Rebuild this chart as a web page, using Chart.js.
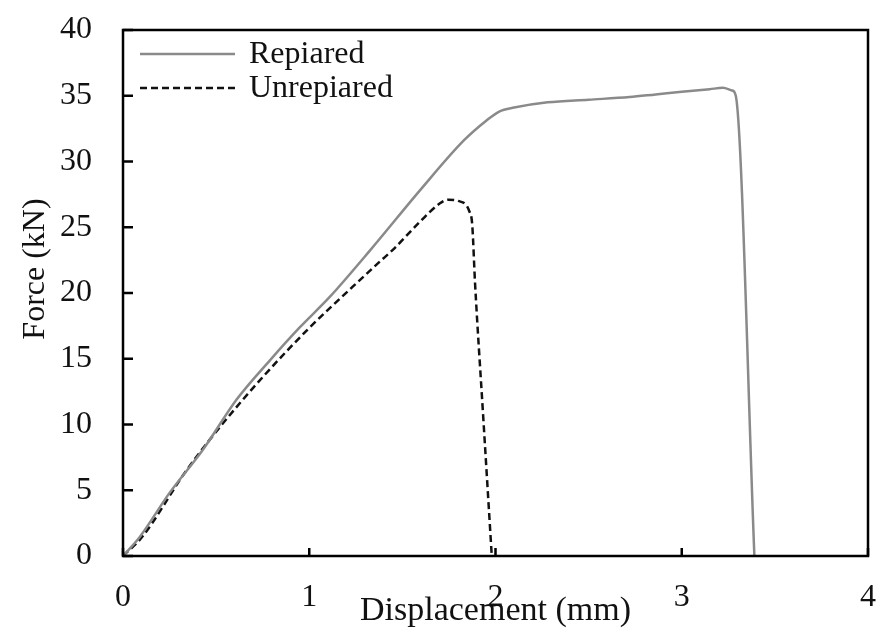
<!DOCTYPE html>
<html>
<head>
<meta charset="utf-8">
<script src="https://cdn.jsdelivr.net/npm/chart.js@4"></script>
<style>
	html, body { margin: 0; padding: 0; background: #ffffff; }
	#wrap { width: 883px; height: 632px; }
</style>
</head>
<body>
<div id="wrap"><canvas id="chart" width="883" height="632"></canvas></div>
<script>
/*--------------------------------------------------------------------------------------------------------------------*/
/* Data                                                                                          */
/*--------------------------------------------------------------------------------------------------------------------*/

const seriesNames = ['Repiared', 'Unrepiared'];

const repairedDisp = [0, 0.09, 0.25, 0.43, 0.61, 0.79, 0.95, 1.11, 1.33, 1.6, 1.83, 1.95, 2.02, 2.1, 2.28, 2.5, 2.72, 2.86, 3.0, 3.15, 3.22, 3.27, 3.29, 3.39];
const repairedForce = [0, 1.45, 4.8, 8.1, 11.9, 14.9, 17.4, 19.7, 23.3, 27.9, 31.6, 33.1, 33.8, 34.1, 34.5, 34.7, 34.9, 35.1, 35.3, 35.5, 35.6, 35.4, 35.0, 0];

const unrepairedDisp = [0, 0.1, 0.34, 0.52, 0.75, 0.99, 1.235, 1.38, 1.45, 1.6, 1.7, 1.747, 1.8, 1.86, 1.875, 1.89, 1.934, 1.98];
const unrepairedForce = [0, 1.4, 6.5, 9.8, 13.6, 17.2, 20.5, 22.4, 23.3, 25.5, 26.8, 27.1, 27.0, 26.2, 25.2, 20.8, 10.6, 0];

const xTicks = [0, 1, 2, 3, 4];
const yTicks = [0, 5, 10, 15, 20, 25, 30, 35, 40];

/*--------------------------------------------------------------------------------------------------------------------*/

const FONT = 'Liberation Serif, Times New Roman, serif';

function toPoints(xs, ys)
{
	return xs.map((x, i) => ({x: x, y: ys[i]}));
}

/*--------------------------------------------------------------------------------------------------------------------*/
/* frame, inward ticks and the legend box drawn over the plot                                                         */
/*--------------------------------------------------------------------------------------------------------------------*/

const framePlugin = {
	id: 'frame',
	afterDraw: function(chart)
	{
		const ctx = chart.ctx;
		const area = chart.chartArea;
		const sx = chart.scales.x;
		const sy = chart.scales.y;

		ctx.save();
		ctx.strokeStyle = '#000000';
		ctx.lineWidth = 2.5;
		ctx.setLineDash([]);
		ctx.strokeRect(area.left, area.top, area.right - area.left, area.bottom - area.top);

		ctx.beginPath();
		xTicks.forEach((v) => {
			const px = sx.getPixelForValue(v);
			ctx.moveTo(px, area.bottom);
			ctx.lineTo(px, area.bottom - 8);
		});
		yTicks.forEach((v) => {
			const py = sy.getPixelForValue(v);
			ctx.moveTo(area.left, py);
			ctx.lineTo(area.left + 10, py);
		});
		ctx.stroke();

		/* legend */
		const rows = [area.top + 24, area.top + 58];
		chart.data.datasets.forEach((ds, i) => {
			ctx.beginPath();
			ctx.strokeStyle = ds.borderColor;
			ctx.lineWidth = ds.borderWidth;
			ctx.setLineDash(ds.borderDash || []);
			ctx.moveTo(area.left + 17, rows[i]);
			ctx.lineTo(area.left + 112, rows[i]);
			ctx.stroke();

			ctx.setLineDash([]);
			ctx.fillStyle = '#111111';
			ctx.font = '32px ' + FONT;
			ctx.textBaseline = 'middle';
			ctx.textAlign = 'left';
			ctx.fillText(ds.label, area.left + 126, rows[i] + 1);
		});
		ctx.restore();
	},
};

/*--------------------------------------------------------------------------------------------------------------------*/

new Chart(document.getElementById('chart').getContext('2d'), {
	type: 'scatter',
	data: {
		datasets: [{
			label: seriesNames[0],
			data: toPoints(repairedDisp, repairedForce),
			showLine: true,
			borderColor: '#8a8a8a',
			borderWidth: 2.5,
			pointRadius: 0,
			cubicInterpolationMode: 'monotone',
		}, {
			label: seriesNames[1],
			data: toPoints(unrepairedDisp, unrepairedForce),
			showLine: true,
			borderColor: '#111111',
			borderWidth: 2.5,
			borderDash: [7, 4],
			pointRadius: 0,
			cubicInterpolationMode: 'monotone',
		}],
	},
	options: {
		responsive: false,
		animation: false,
		layout: {
			padding: {left: 0, right: 15, top: 30, bottom: 0},
		},
		plugins: {
			legend: {display: false},
			tooltip: {enabled: false},
		},
		scales: {
			x: {
				type: 'linear',
				min: 0,
				max: 4,
				afterFit: (scale) => {
					scale.height = 76;
					scale.paddingLeft = 0;
					scale.paddingRight = 0;
				},
				afterBuildTicks: (scale) => { scale.ticks = xTicks.map((v) => ({value: v})); },
				grid: {display: false},
				border: {display: false},
				ticks: {
					color: '#111111',
					padding: 14,
					font: {family: FONT, size: 32},
				},
				title: {
					display: true,
					text: 'Displacement (mm)',
					color: '#111111',
					padding: {top: 0, bottom: 1},
					font: {family: FONT, size: 34},
				},
			},
			y: {
				type: 'linear',
				min: 0,
				max: 40,
				afterFit: (scale) => {
					scale.width = 123;
					scale.paddingTop = 0;
					scale.paddingBottom = 0;
				},
				afterBuildTicks: (scale) => { scale.ticks = yTicks.map((v) => ({value: v})); },
				grid: {display: false},
				border: {display: false},
				ticks: {
					color: '#111111',
					padding: 23,
					font: {family: FONT, size: 32},
				},
				title: {
					display: true,
					text: '\u00a0\u00a0\u00a0\u00a0\u00a0\u00a0Force (kN)',
					color: '#111111',
					padding: {top: 16, bottom: 0},
					font: {family: FONT, size: 32},
				},
			},
		},
	},
	plugins: [framePlugin],
});
</script>
</body>
</html>
